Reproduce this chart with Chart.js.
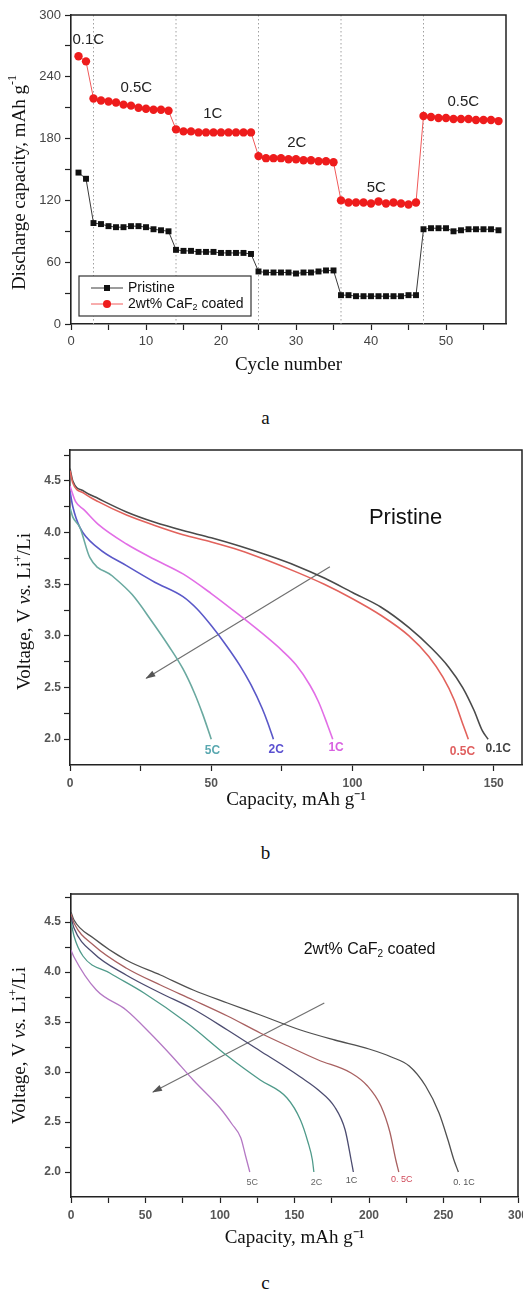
<!DOCTYPE html>
<html>
<head>
<meta charset="utf-8">
<script src="https://cdn.jsdelivr.net/npm/chart.js@4.4.1/dist/chart.umd.min.js"></script>
<style>
  body { margin: 0; background: #fff; width: 531px; height: 1298px; position: relative; overflow: hidden; }
  canvas { position: absolute; left: 0; }
  .cap { position: absolute; left: 0; width: 531px; text-align: center; font: 19px "Liberation Serif", "Times New Roman", serif; color: #111; line-height: 22px; }
</style>
</head>
<body>
<canvas id="rateChart" width="531" height="385" style="top:0"></canvas>
<div class="cap" style="top:407px">a</div>
<canvas id="pristineChart" width="531" height="385" style="top:430px"></canvas>
<div class="cap" style="top:842px">b</div>
<canvas id="coatedChart" width="523" height="385" style="top:870px"></canvas>
<div class="cap" style="top:1272px">c</div>

<script>
var SANS = '"Liberation Sans", Arial, sans-serif';
var SERIF = '"Liberation Serif", "Times New Roman", serif';
Chart.defaults.font.family = SANS;

// ---------- (a) rate capability ----------
var cycles = [];
for (var i = 1; i <= 57; i++) cycles.push(i);

var pristineCap = [147, 141,
  98, 97, 95, 94, 94, 95, 95, 94, 92, 91, 90,
  72, 71, 71, 70, 70, 70, 69, 69, 69, 69, 68,
  51, 50, 50, 50, 50, 49, 50, 50, 51, 52, 52,
  28, 28, 27, 27, 27, 27, 27, 27, 27, 28, 28,
  92, 93, 93, 93, 90, 91, 92, 92, 92, 92, 91];
var coatedCap = [260, 255,
  219, 217, 216, 215, 213, 212, 210, 209, 208, 208, 207,
  189, 187, 187, 186, 186, 186, 186, 186, 186, 186, 186,
  163, 161, 161, 161, 160, 160, 159, 159, 158, 158, 157,
  120, 118, 118, 118, 117, 119, 117, 118, 117, 116, 118,
  202, 201, 200, 200, 199, 199, 199, 198, 198, 198, 197];
var seriesNames = ['Pristine', '2wt% CaF₂ coated'];
var rateSteps = [3, 14, 25, 36, 47];
var rateLabels = ['0.1C', '0.5C', '1C', '2C', '5C', '0.5C'];
var rateLabelX = [2.3, 8.7, 18.9, 30.1, 40.7, 52.3];
var rateLabelY = [276, 229, 204, 176, 132, 216];
var cycleTicks = [0, 5, 10, 15, 20, 25, 30, 35, 40, 45, 50, 55];
var capTicks = [0, 30, 60, 90, 120, 150, 180, 210, 240, 270, 300];

// ---------- (b) pristine discharge curves ----------
var b01X = [0, 1, 5, 10, 20, 30, 40, 50, 60, 70, 80, 90, 100, 110, 120, 128, 134, 139, 143, 146, 148];
var b01V = [4.62, 4.50, 4.40, 4.33, 4.20, 4.10, 4.02, 3.95, 3.87, 3.78, 3.68, 3.56, 3.42, 3.28, 3.08, 2.88, 2.70, 2.50, 2.28, 2.08, 2.00];
var b05X = [0, 1, 5, 10, 20, 30, 40, 50, 60, 70, 80, 90, 100, 110, 120, 127, 132, 136, 139, 141];
var b05V = [4.60, 4.48, 4.38, 4.30, 4.17, 4.07, 3.98, 3.91, 3.83, 3.73, 3.62, 3.50, 3.36, 3.20, 3.00, 2.80, 2.60, 2.38, 2.15, 2.00];
var b1X = [0, 2, 5, 10, 20, 30, 40, 50, 60, 70, 75, 80, 85, 88, 91, 93];
var b1V = [4.45, 4.30, 4.22, 4.08, 3.89, 3.74, 3.60, 3.41, 3.20, 2.98, 2.86, 2.72, 2.52, 2.36, 2.15, 2.00];
var b2X = [0, 1, 3.5, 10, 20, 30, 40, 45, 50, 55, 60, 64, 68, 70, 72];
var b2V = [4.40, 4.25, 4.05, 3.85, 3.68, 3.52, 3.38, 3.26, 3.10, 2.92, 2.72, 2.53, 2.30, 2.16, 2.00];
var b5X = [0, 1, 3.5, 7, 15, 22, 29, 35, 40, 44, 47, 50];
var b5V = [4.24, 4.15, 4.05, 3.76, 3.58, 3.40, 3.14, 2.90, 2.68, 2.45, 2.24, 2.00];
var bRates = ['5C', '2C', '1C', '0.5C', '0.1C'];
var bLabelX = [50.4, 73, 94.2, 138.9, 151.6];
var bLabelY = [1.89, 1.90, 1.92, 1.88, 1.91];
var arrowBX = [92, 27];
var arrowBY = [3.67, 2.59];

// ---------- (c) coated discharge curves ----------
var c01X = [0, 2, 15, 37, 60, 82, 105, 127, 154, 177, 200, 215, 227, 238, 247, 253, 257, 260];
var c01V = [4.60, 4.52, 4.34, 4.12, 3.97, 3.82, 3.69, 3.57, 3.42, 3.32, 3.23, 3.15, 3.06, 2.86, 2.59, 2.32, 2.12, 2.00];
var c05X = [0, 2, 15, 37, 60, 82, 105, 127, 144, 166, 188, 199, 208, 214, 218, 220];
var c05V = [4.58, 4.49, 4.27, 4.04, 3.87, 3.72, 3.56, 3.39, 3.27, 3.12, 2.99, 2.86, 2.66, 2.40, 2.12, 2.00];
var c1X = [0, 2, 15, 37, 60, 82, 105, 127, 144, 154, 166, 177, 184, 188, 189.5];
var c1V = [4.55, 4.44, 4.19, 3.97, 3.79, 3.63, 3.42, 3.21, 3.05, 2.95, 2.82, 2.65, 2.42, 2.12, 2.00];
var c2X = [0, 2, 8, 26, 49, 78, 105, 127, 145, 154, 159, 162, 163];
var c2V = [4.50, 4.36, 4.16, 3.99, 3.79, 3.49, 3.16, 2.92, 2.74, 2.52, 2.30, 2.12, 2.00];
var c5X = [0, 2, 17, 37, 53, 67, 82, 100, 108, 114, 117, 120];
var c5V = [4.22, 4.15, 3.82, 3.62, 3.39, 3.17, 2.92, 2.64, 2.48, 2.34, 2.17, 2.00];
var cRates = ['5C', '2C', '1C', '0. 5C', '0. 1C'];
var cLabelX = [121.7, 164.8, 188.3, 222, 263.7];
var cLabelY = [1.89, 1.89, 1.91, 1.92, 1.89];
var arrowCX = [170, 55];
var arrowCY = [3.69, 2.80];

var bCapTicks = [0, 25, 50, 75, 100, 125, 150];
var cCapTicks = [0, 25, 50, 75, 100, 125, 150, 175, 200, 225, 250, 275, 300];
var voltTicks = [2.0, 2.25, 2.5, 2.75, 3.0, 3.25, 3.5, 3.75, 4.0, 4.25, 4.5, 4.75];

function pts(xs, ys) {
  return xs.map(function (x, k) { return { x: x, y: ys[k] }; });
}

function makeAxis(o) {
  var ax = {
    type: 'linear', min: o.min, max: o.max,
    afterBuildTicks: function (s) {
      s.ticks = o.ticks.map(function (v) { return { value: v }; });
    },
    afterFit: function (s) {
      if (s.isHorizontal()) { s.height = o.size; s.paddingLeft = 0; s.paddingRight = 0; }
      else { s.width = o.size; s.paddingTop = 0; s.paddingBottom = 0; }
    },
    ticks: {
      autoSkip: false, maxRotation: 0, padding: o.pad || 4, color: o.tickColor || '#333',
      font: { size: o.fontSize, family: SANS, weight: o.bold ? 'bold' : 'normal' },
      callback: function (v) {
        var r = v / o.every;
        return Math.abs(r - Math.round(r)) < 1e-6 ? v.toFixed(o.digits) : '';
      }
    },
    grid: { drawOnChartArea: false, tickLength: 6, color: '#222', tickWidth: 1.2 },
    border: { color: '#222', width: 1.6 }
  };
  if (o.title) {
    ax.title = { display: true, text: o.title, color: '#111',
      font: { size: 19, family: SERIF, weight: 'normal' }, padding: { top: 0, bottom: o.titlePad } };
  }
  return ax;
}

function withSub(text, font, subFont) {
  var parts = text.split('₂'), segs = [];
  parts.forEach(function (p, k) {
    if (k > 0) segs.push({ text: '2', font: subFont, dy: 4 });
    if (p) segs.push({ text: p, font: font });
  });
  return segs;
}

function drawRich(ctx, segs, x, y, rot, align, color) {
  ctx.save();
  ctx.translate(x, y);
  ctx.rotate(rot);
  var total = 0;
  segs.forEach(function (s) { ctx.font = s.font; s.w = ctx.measureText(s.text).width; total += s.w; });
  var cx = align === 'center' ? -total / 2 : 0;
  ctx.textAlign = 'left';
  ctx.textBaseline = 'middle';
  ctx.fillStyle = color || '#111';
  segs.forEach(function (s) { ctx.font = s.font; ctx.fillText(s.text, cx, s.dy || 0); cx += s.w; });
  ctx.restore();
}

function drawFrame(chart) {
  var ctx = chart.ctx, a = chart.chartArea;
  ctx.save();
  ctx.strokeStyle = '#222';
  ctx.lineWidth = 1.5;
  ctx.beginPath();
  ctx.moveTo(a.left, a.top);
  ctx.lineTo(a.right, a.top);
  ctx.lineTo(a.right, a.bottom);
  ctx.stroke();
  ctx.restore();
}

function placeLabels(chart, texts, xs, ys, colors, font) {
  var ctx = chart.ctx, sx = chart.scales.x, sy = chart.scales.y;
  ctx.save();
  ctx.font = font;
  ctx.textAlign = 'center';
  ctx.textBaseline = 'middle';
  texts.forEach(function (t, k) {
    ctx.fillStyle = Array.isArray(colors) ? colors[k] : colors;
    ctx.fillText(t, sx.getPixelForValue(xs[k]), sy.getPixelForValue(ys[k]));
  });
  ctx.restore();
}

function arrowHead(chart, idx, color) {
  var ctx = chart.ctx, p = chart.getDatasetMeta(idx).data;
  var h = p[p.length - 1], t = p[p.length - 2];
  var ang = Math.atan2(h.y - t.y, h.x - t.x);
  ctx.save();
  ctx.translate(h.x, h.y);
  ctx.rotate(ang);
  ctx.fillStyle = color;
  ctx.beginPath();
  ctx.moveTo(1, 0);
  ctx.lineTo(-9, -3.2);
  ctx.lineTo(-9, 3.2);
  ctx.closePath();
  ctx.fill();
  ctx.restore();
}

function voltTitle(chart, cx, dy) {
  var a = chart.chartArea, f = '19px ' + SERIF;
  drawRich(chart.ctx, [
    { text: 'Voltage, V ', font: f },
    { text: 'vs.', font: 'italic ' + f },
    { text: ' Li', font: f },
    { text: '+', font: '12px ' + SERIF, dy: -6 },
    { text: '/Li', font: f }
  ], cx, (a.top + a.bottom) / 2 + dy, -Math.PI / 2, 'center');
}

function baseOptions(padding, xAxis, yAxis) {
  return {
    responsive: false, animation: false, events: [],
    layout: { padding: padding },
    plugins: { legend: { display: false }, tooltip: { enabled: false } },
    elements: { point: { radius: 0 } },
    scales: { x: xAxis, y: yAxis }
  };
}

// ---------- chart a ----------
var rateOverlay = {
  id: 'rateOverlay',
  beforeDatasetsDraw: function (chart) {
    var ctx = chart.ctx, a = chart.chartArea, sx = chart.scales.x;
    ctx.save();
    ctx.strokeStyle = '#a0a0a0';
    ctx.lineWidth = 1;
    ctx.setLineDash([1.5, 2.5]);
    rateSteps.forEach(function (c) {
      var px = sx.getPixelForValue(c);
      ctx.beginPath(); ctx.moveTo(px, a.top); ctx.lineTo(px, a.bottom); ctx.stroke();
    });
    ctx.restore();
  },
  afterDraw: function (chart) {
    var ctx = chart.ctx, a = chart.chartArea;
    drawFrame(chart);
    placeLabels(chart, rateLabels, rateLabelX, rateLabelY, '#222', '15px ' + SANS);

    // legend box, bottom-left inside the plot
    var lx = a.left + 8, ly = a.bottom - 48;
    ctx.save();
    ctx.fillStyle = '#fff';
    ctx.fillRect(lx, ly, 172, 40);
    ctx.strokeStyle = '#333';
    ctx.lineWidth = 1.2;
    ctx.strokeRect(lx, ly, 172, 40);
    chart.data.datasets.forEach(function (ds, k) {
      var ry = ly + 12 + k * 16;
      ctx.strokeStyle = ds.borderColor;
      ctx.lineWidth = 1;
      ctx.beginPath(); ctx.moveTo(lx + 12, ry); ctx.lineTo(lx + 44, ry); ctx.stroke();
      ctx.fillStyle = ds.pointBackgroundColor;
      if (ds.pointStyle === 'rect') {
        ctx.fillRect(lx + 25, ry - 3, 6, 6);
      } else {
        ctx.beginPath(); ctx.arc(lx + 28, ry, 4, 0, Math.PI * 2); ctx.fill();
      }
      drawRich(ctx, withSub(seriesNames[k], '14px ' + SANS, '9px ' + SANS), lx + 49, ry, 0, 'left', '#111');
    });
    ctx.restore();

    drawRich(ctx, [
      { text: 'Discharge capacity, mAh g', font: '19px ' + SERIF },
      { text: '-1', font: '12px ' + SERIF, dy: -7 }
    ], 20, (a.top + a.bottom) / 2 + 13, -Math.PI / 2, 'center');
  }
};

new Chart(document.getElementById('rateChart'), {
  type: 'line',
  data: {
    datasets: [{
      label: seriesNames[0],
      data: pts(cycles, pristineCap),
      borderColor: '#3a3a3a', borderWidth: 1,
      pointStyle: 'rect', pointRadius: 4.2, pointBackgroundColor: '#111', pointBorderWidth: 0
    }, {
      label: seriesNames[1],
      data: pts(cycles, coatedCap),
      borderColor: '#f05a5a', borderWidth: 1,
      pointStyle: 'circle', pointRadius: 4.2, pointBackgroundColor: '#ee1c1c', pointBorderWidth: 0
    }]
  },
  options: baseOptions({ left: 0, top: 15, right: 25, bottom: 0 },
    makeAxis({ min: 0, max: 58, ticks: cycleTicks, every: 10, digits: 0, size: 61, fontSize: 13, tickColor: '#444', title: 'Cycle number', titlePad: 9 }),
    makeAxis({ min: 0, max: 300, ticks: capTicks, every: 60, digits: 0, size: 71, fontSize: 13, tickColor: '#444' })),
  plugins: [rateOverlay]
});

// ---------- chart b ----------
var bColors = ['#6aa9a0', '#5a58c8', '#e26ee6', '#e2625c', '#4a4a4a'];
var bLabelColors = ['#5aa8b0', '#5a50d0', '#d860e0', '#e06060', '#444'];
function curve(xs, vs, color, w) {
  return { data: pts(xs, vs), borderColor: color, borderWidth: w, pointRadius: 0, cubicInterpolationMode: 'monotone' };
}

new Chart(document.getElementById('pristineChart'), {
  type: 'line',
  data: {
    datasets: [
      curve(b5X, b5V, bColors[0], 1.6),
      curve(b2X, b2V, bColors[1], 1.6),
      curve(b1X, b1V, bColors[2], 1.6),
      curve(b05X, b05V, bColors[3], 1.6),
      curve(b01X, b01V, bColors[4], 1.6),
      { data: pts(arrowBX, arrowBY), borderColor: '#707070', borderWidth: 1.2, pointRadius: 0 }
    ]
  },
  options: baseOptions({ left: 0, top: 20, right: 9, bottom: 0 },
    makeAxis({ min: 0, max: 160, ticks: bCapTicks, every: 50, digits: 0, size: 50, fontSize: 12, bold: true, tickColor: '#555', pad: 5, title: 'Capacity, mAh g⁻¹', titlePad: 4 }),
    makeAxis({ min: 1.75, max: 4.8, ticks: voltTicks, every: 0.5, digits: 1, size: 70, fontSize: 12, bold: true, tickColor: '#555', pad: 3 })),
  plugins: [{
    id: 'pristineOverlay',
    afterDraw: function (chart) {
      drawFrame(chart);
      arrowHead(chart, 5, '#555');
      placeLabels(chart, bRates, bLabelX, bLabelY, bLabelColors, 'bold 12px ' + SANS);
      placeLabels(chart, ['Pristine'], [118.8], [4.14], '#111', '22px ' + SANS);
      voltTitle(chart, 25, 4);
    }
  }]
});

// ---------- chart c ----------
var cColors = ['#b478c4', '#4f9a8a', '#4c4c70', '#a86060', '#505050'];
var cLabelColors = ['#666', '#666', '#555', '#d04a5a', '#555'];

new Chart(document.getElementById('coatedChart'), {
  type: 'line',
  data: {
    datasets: [
      curve(c5X, c5V, cColors[0], 1.3),
      curve(c2X, c2V, cColors[1], 1.3),
      curve(c1X, c1V, cColors[2], 1.3),
      curve(c05X, c05V, cColors[3], 1.3),
      curve(c01X, c01V, cColors[4], 1.3),
      { data: pts(arrowCX, arrowCY), borderColor: '#707070', borderWidth: 1.2, pointRadius: 0 }
    ]
  },
  options: baseOptions({ left: 0, top: 24, right: 5, bottom: 0 },
    makeAxis({ min: 0, max: 300, ticks: cCapTicks, every: 50, digits: 0, size: 58, fontSize: 12, bold: true, tickColor: '#555', pad: 5, title: 'Capacity, mAh g⁻¹', titlePad: 6 }),
    makeAxis({ min: 1.75, max: 4.78, ticks: voltTicks, every: 0.5, digits: 1, size: 71, fontSize: 12, bold: true, tickColor: '#555', pad: 4 })),
  plugins: [{
    id: 'coatedOverlay',
    afterDraw: function (chart) {
      var sx = chart.scales.x, sy = chart.scales.y;
      drawFrame(chart);
      arrowHead(chart, 5, '#555');
      placeLabels(chart, cRates, cLabelX, cLabelY, cLabelColors, '9px ' + SANS);
      drawRich(chart.ctx, withSub(seriesNames[1], '16px ' + SANS, '10px ' + SANS),
        sx.getPixelForValue(200.4), sy.getPixelForValue(4.22), 0, 'center', '#111');
      voltTitle(chart, 20, 0);
    }
  }]
});
</script>
</body>
</html>
